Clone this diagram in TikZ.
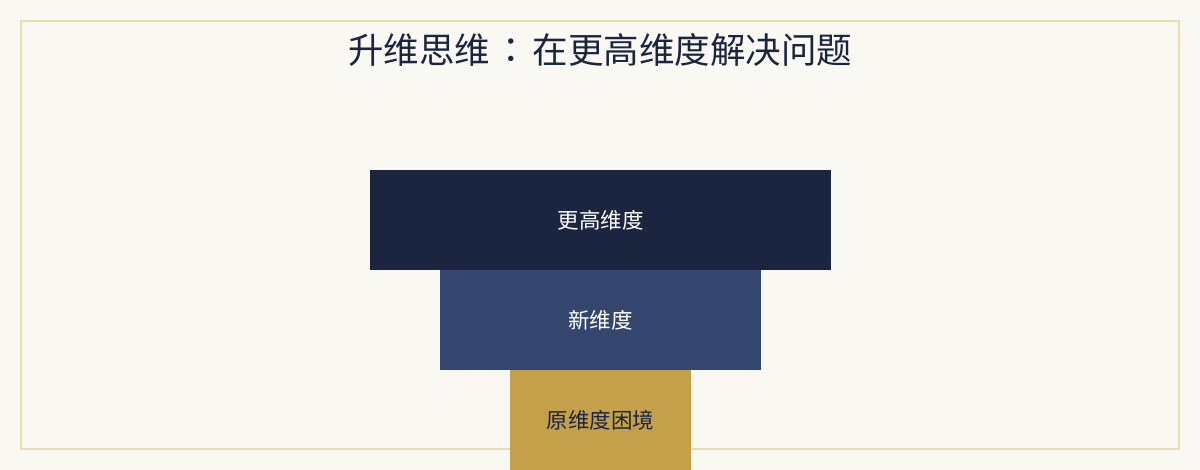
\documentclass[tikz,border=0pt]{standalone}
\usepackage{fontspec}
\setmainfont{Noto Sans CJK SC}
\newfontfamily\jpfont{Noto Sans CJK JP}
\usetikzlibrary{positioning}
\definecolor{paper}{HTML}{FAF8F3}
\definecolor{frameline}{HTML}{EBDBB2}
\definecolor{navy}{HTML}{1B2540}
\definecolor{slate}{HTML}{34466D}
\definecolor{ochre}{HTML}{C5A04A}
\tikzset{
  base/.style = {
    rectangle, draw=none, outer sep=0pt, inner sep=0pt,
    minimum height=100pt, text centered, font=\fontsize{21.5}{26}\selectfont
  },
  level/.style = {
    base, text=white
  },
}

\begin{document}
\begin{tikzpicture}[x=1pt, y=1pt, node distance=0pt]
  \useasboundingbox (0,0) rectangle (1200,-470);
  \fill[paper] (0,0) rectangle (1200,-470);
  \draw[frameline, line width=2pt] (21,-21) rectangle (1179,-449);
  \node (title) at (600,-50) [text=navy, font=\fontsize{35.5}{42}\selectfont] {升维思维\hspace{3.5pt}{\jpfont ：}\hspace{3.5pt}在更高维度解决问题};
  \node (higher) at (600.5,-220) [level, fill=navy, minimum width=461pt] {更高维度};
  \node (newdim) [level, fill=slate, minimum width=321pt, below=of higher] {新维度};
  \node (origin) [base, fill=ochre, text=navy, minimum width=181pt, below=of newdim] {原维度困境};
\end{tikzpicture}
\end{document}
